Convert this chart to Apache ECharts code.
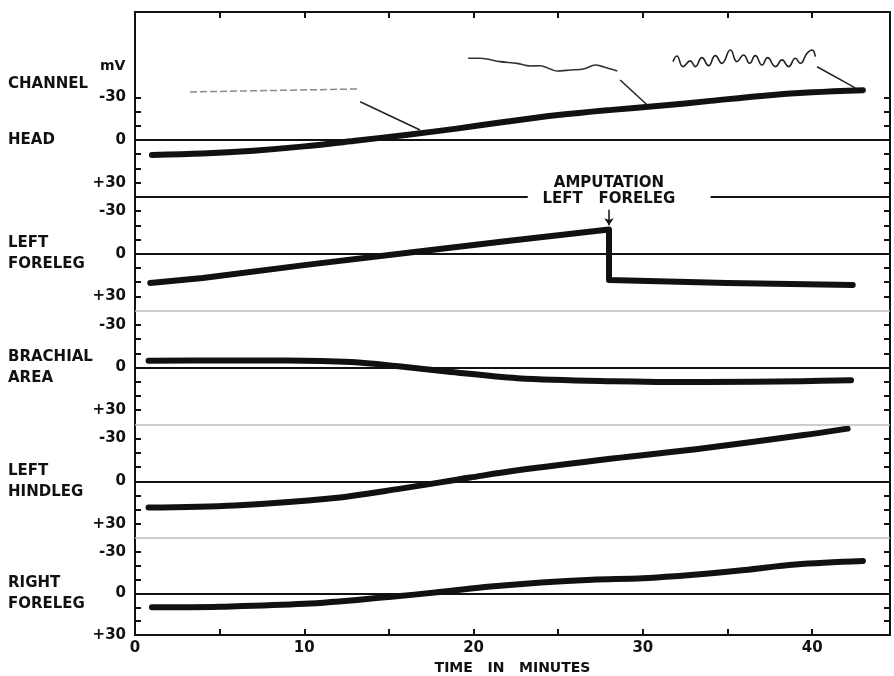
<!DOCTYPE html>
<html>
<head>
<meta charset="utf-8">
<script src="https://cdn.jsdelivr.net/npm/echarts@6/dist/echarts.min.js"></script>
<style>
html, body { margin: 0; padding: 0; background: #fff; }
#main { width: 894px; height: 676px; }
</style>
</head>
<body>
<div id="main"></div>
<script>
// recorded potentials, [minutes, mV] (mV axis runs -30 at top to +30 at bottom)
var headData = [[1, 10.5], [4, 9.5], [7, 7.5], [10, 4.5], [13, 0.5], [16, -3.5], [19, -8], [22, -13],
    [25, -17.5], [28, -21], [31, -24], [34, -27.5], [37, -31], [40, -33.5], [43, -35]];
var leftForelegData = [[0.9, 20.5], [4, 17], [10, 8], [16, -0.5], [22, -9], [28, -17], [28, 18.5],
    [35, 20.5], [42.4, 22]];
var brachialData = [[0.8, -4.8], [5, -5], [9, -5], [12.8, -3.9], [15.7, -0.7], [18.4, 2.8],
    [22.6, 7.5], [28.2, 9.6], [33.7, 10.2], [39.4, 9.6], [42.3, 9]];
var leftHindlegData = [[0.8, 18.5], [5.9, 17], [11.5, 12.2], [15.7, 5.2], [19.8, -2.6], [22.6, -7.7],
    [28.2, -16], [33.7, -23.4], [39.4, -32.3], [42.1, -37]];
var rightForelegData = [[1, 10], [5, 9.5], [10, 7.5], [15, 2.5], [18, -1], [21, -5], [24, -8], [27, -10],
    [30, -11], [33, -13.5], [36, -17], [39, -21], [43, -23.5]];

// small sample traces drawn above the head channel, with their pointer lines
var insetFlat = [[3.25, -33.8], [13.3, -35.9]];
var insetDrift = [[19.68, -57.5], [20.39, -57.5], [21.57, -55.1], [22.58, -53.9], [23.35, -52], [23.94, -52.2],
    [24.94, -48.5], [25.71, -49.2], [26.48, -49.9], [27.19, -52.7], [27.66, -51.5], [28.49, -48.5]];
var insetFast = [[31.78, -55.1], [32.01, -59.1], [32.37, -51.6], [32.8, -55.6], [33.1, -51.6], [33.49, -57.9],
    [33.88, -52.3], [34.28, -59.3], [34.67, -53.9], [35.17, -63.3], [35.56, -55.1], [35.95, -59.8],
    [36.31, -53.9], [36.64, -59.3], [37.04, -52.7], [37.37, -57.9], [37.83, -51.6], [38.22, -56.3],
    [38.61, -51.6], [39.01, -57.5], [39.3, -53.9], [39.7, -61], [39.99, -63.3], [40.19, -58.6]];
var pointerFlat = [[13.3, -26.9], [16.84, -7]];
var pointerDrift = [[28.66, -42.2], [30.26, -24.6]];
var pointerFast = [[40.29, -51.5], [42.55, -36.6]];

var channelNames = [['CHANNEL', 'HEAD'], ['LEFT', 'FORELEG'], ['BRACHIAL', 'AREA'], ['LEFT', 'HINDLEG'], ['RIGHT', 'FORELEG']];
var channelData = [headData, leftForelegData, brachialData, leftHindlegData, rightForelegData];
var channelMin = [-90, -40, -40, -40, -40];
var channelMax = [40, 40, 40, 40, 30];
var mvTicks = [-30, -20, -10, 0, 10, 20, 30];
var mvLabels = [-30, 0, 30];
var timeLabels = [0, 10, 20, 30, 40];
var timeMax = 44.6;
var amputationTime = 28;
var separatorGap = [23.2, 34];

var INK = '#111';
var FONT = 'DejaVu Sans';

function initChart() {
    var chart = echarts.init(document.getElementById('main'));
    var pxPerMv = 1.422;
    var top = 12;
    var grids = [], xAxes = [], yAxes = [], series = [];

    for (var i = 0; i < channelData.length; i++) {
        var h = (channelMax[i] - channelMin[i]) * pxPerMv;
        grids.push({ left: 135, right: 4, top: top, height: h });
        top += h;

        var xa = { type: 'value', gridIndex: i, min: 0, max: timeMax, interval: 5, splitLine: { show: false } };
        if (i === 0) {
            xa.position = 'top';
            xa.axisLine = { onZero: false, lineStyle: { color: INK, width: 2 } };
            xa.axisTick = { inside: true, length: 6, lineStyle: { color: INK, width: 2 } };
            xa.axisLabel = { show: false };
        } else if (i === channelData.length - 1) {
            xa.position = 'bottom';
            xa.axisLine = { onZero: false, lineStyle: { color: INK, width: 2 } };
            xa.axisTick = { inside: true, length: 6, lineStyle: { color: INK, width: 2 } };
            xa.axisLabel = { customValues: timeLabels, margin: 6, color: INK, fontSize: 15, fontWeight: 'bold', fontFamily: FONT };
            xa.name = 'TIME   IN   MINUTES';
            xa.nameLocation = 'middle';
            xa.nameGap = 26;
            xa.nameTextStyle = { color: INK, fontSize: 14, fontWeight: 'bold', fontFamily: FONT };
        } else {
            xa.show = false;
        }
        xAxes.push(xa);

        ['left', 'right'].forEach(function (pos) {
            yAxes.push({
                type: 'value', gridIndex: i, position: pos, inverse: true,
                min: channelMin[i], max: channelMax[i], interval: 10,
                splitLine: { show: false },
                axisLine: { show: true, onZero: false, lineStyle: { color: INK, width: 2 } },
                axisTick: { show: true, inside: true, length: 6, customValues: mvTicks, lineStyle: { color: INK, width: 2 } },
                axisLabel: {
                    show: pos === 'left', customValues: mvLabels, margin: 9,
                    color: INK, fontSize: 15, fontWeight: 'bold', fontFamily: FONT,
                    formatter: function (v) { return v > 0 ? '+' + v : String(v); }
                }
            });
        });

        // zero line and the line separating this channel from the one above
        var marks = [{ yAxis: 0 }];
        if (i === 1) {
            marks.push([{ coord: [0, channelMin[i]] }, { coord: [separatorGap[0], channelMin[i]] }]);
            marks.push([{ coord: [separatorGap[1], channelMin[i]] }, { coord: [timeMax, channelMin[i]] }]);
            marks.push([
                { coord: [amputationTime, -31], symbol: 'none',
                  lineStyle: { width: 1.5 },
                  label: { show: true, position: 'start', distance: 3, formatter: 'AMPUTATION\nLEFT   FORELEG',
                           color: INK, fontSize: 15, fontWeight: 'bold', fontFamily: FONT, lineHeight: 16, align: 'center' } },
                { coord: [amputationTime, -20], symbol: 'arrow', symbolSize: 7 }
            ]);
        } else if (i > 1) {
            marks.push({ yAxis: channelMin[i], lineStyle: { color: '#bdbdbd', width: 1.5 } });
        }

        series.push({
            type: 'line', xAxisIndex: i, yAxisIndex: 2 * i, data: channelData[i],
            symbol: 'none', smooth: i === 1 ? false : 0.35, z: 3,
            lineStyle: { color: INK, width: 6, cap: 'round', join: 'round' },
            markLine: {
                silent: true, symbol: ['none', 'none'], animation: false,
                label: { show: false },
                lineStyle: { color: INK, width: 2, type: 'solid' },
                data: marks
            }
        });
    }

    function inset(data, style, smooth) {
        series.push({
            type: 'line', xAxisIndex: 0, yAxisIndex: 0, data: data, symbol: 'none', z: 4,
            smooth: smooth || false, lineStyle: style
        });
    }
    inset(insetFlat, { color: '#8a8a8a', width: 1.5, type: [7, 3] });
    inset(insetDrift, { color: '#333', width: 1.6 }, 0.3);
    inset(insetFast, { color: '#222', width: 1.6 }, 0.5);
    inset(pointerFlat, { color: '#222', width: 1.5 });
    inset(pointerDrift, { color: '#222', width: 1.5 });
    inset(pointerFast, { color: '#222', width: 1.5 });

    chart.setOption({
        animation: false,
        backgroundColor: '#fff',
        textStyle: { fontFamily: FONT },
        grid: grids,
        xAxis: xAxes,
        yAxis: yAxes,
        series: series
    });

    // channel names, centred on each zero line
    var texts = [];
    for (var k = 0; k < channelNames.length; k++) {
        var y0 = chart.convertToPixel({ yAxisIndex: 2 * k }, 0);
        var lines = channelNames[k];
        if (k === 0) {
            texts.push({ type: 'text', x: 8, y: y0 - 56, style: { text: lines[0], font: 'bold 15px "DejaVu Sans"', fill: INK, verticalAlign: 'middle' } });
            texts.push({ type: 'text', x: 8, y: y0, style: { text: lines[1], font: 'bold 15px "DejaVu Sans"', fill: INK, verticalAlign: 'middle' } });
            texts.push({ type: 'text', x: 100, y: y0 - 74, style: { text: 'mV', font: 'bold 14px "DejaVu Sans"', fill: INK, verticalAlign: 'middle' } });
        } else {
            texts.push({ type: 'text', x: 8, y: y0, style: { text: lines.join('\n'), font: 'bold 15px "DejaVu Sans"', lineHeight: 21, fill: INK, verticalAlign: 'middle' } });
        }
    }
    chart.setOption({ graphic: texts });
}

initChart();
</script>
</body>
</html>
